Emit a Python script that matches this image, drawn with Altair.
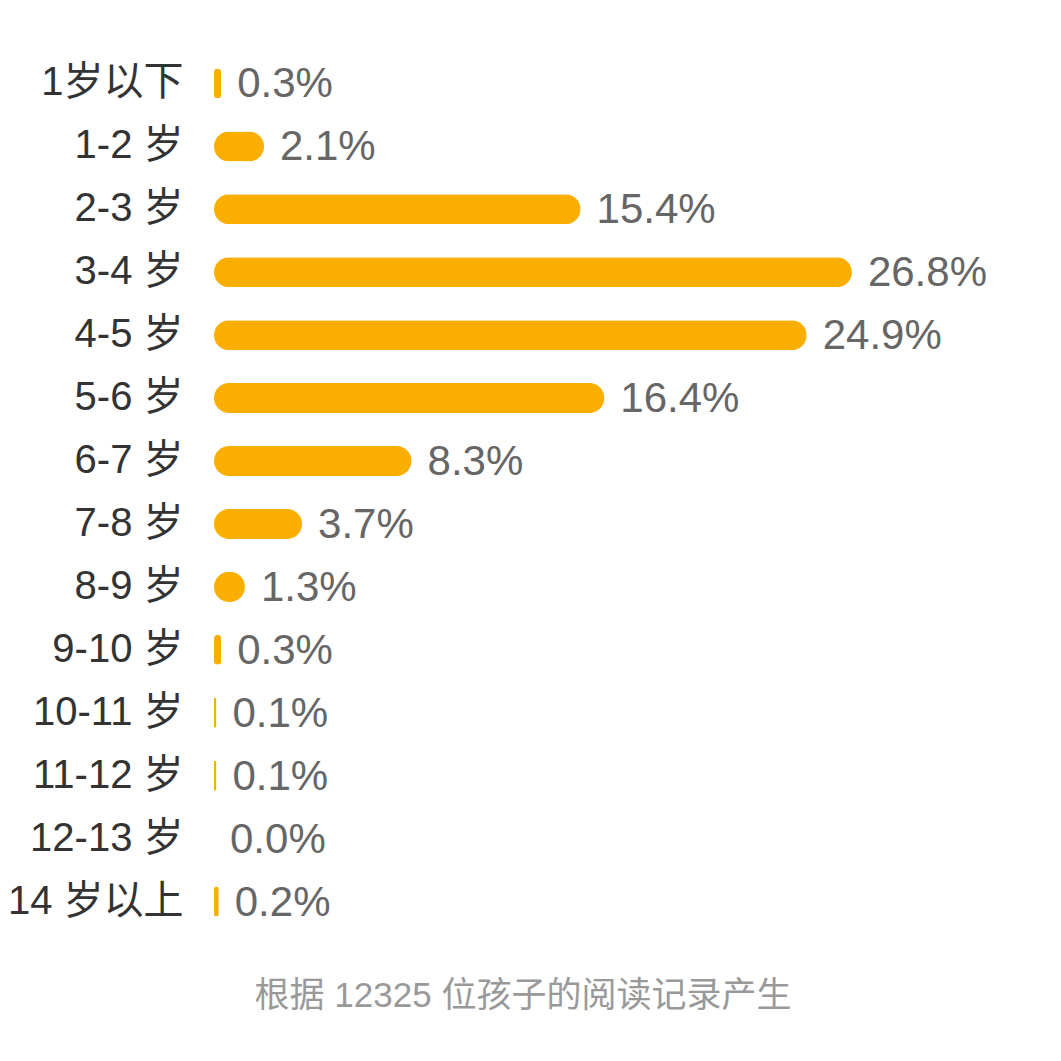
import altair as alt
import pandas as pd

ages = ["1岁以下", "1-2 岁", "2-3 岁", "3-4 岁", "4-5 岁", "5-6 岁", "6-7 岁",
        "7-8 岁", "8-9 岁", "9-10 岁", "10-11 岁", "11-12 岁", "12-13 岁", "14 岁以上"]
shares = [0.3, 2.1, 15.4, 26.8, 24.9, 16.4, 8.3, 3.7, 1.3, 0.3, 0.1, 0.1, 0.0, 0.2]
labels = [f"{v:.1f}%" for v in shares]
footer = "根据 12325 位孩子的阅读记录产生"

df = pd.DataFrame({"age": ages, "share": shares, "label": labels})

FONT = "Liberation Sans, Noto Sans CJK SC"

y = alt.Y("age:N", sort=ages, title=None,
          scale=alt.Scale(paddingInner=0, paddingOuter=0),
          axis=alt.Axis(domain=False, ticks=False, grid=False, labelFontSize=40,
                        labelColor="#333333", labelFont=FONT, labelPadding=31,
                        labelLimit=300))
x = alt.X("share:Q", scale=alt.Scale(domain=[0, 31.93], nice=False), axis=None)

bars = alt.Chart(df).mark_bar(color="#F9AE00", size=30, cornerRadius=15).encode(x=x, y=y)
text = alt.Chart(df).mark_text(align="left", baseline="middle", dx=16, dy=1, fontSize=42,
                               font=FONT, color="#666666").encode(
    x=x, y=y, text="label:N")

chart = alt.layer(bars, text).properties(
    width=760, height=881,
    background="white",
    autosize=alt.AutoSizeParams(type="none"),
    padding={"left": 206, "top": 44, "right": 75, "bottom": 108},
    title=alt.TitleParams(footer, orient="bottom", anchor="middle", fontSize=35,
                          font=FONT, color="#999999", fontWeight="normal",
                          offset=46, dx=-71),
).configure_view(strokeWidth=0, stroke=None)

chart.save("out.html", embed_options={"renderer": "svg", "actions": False})
